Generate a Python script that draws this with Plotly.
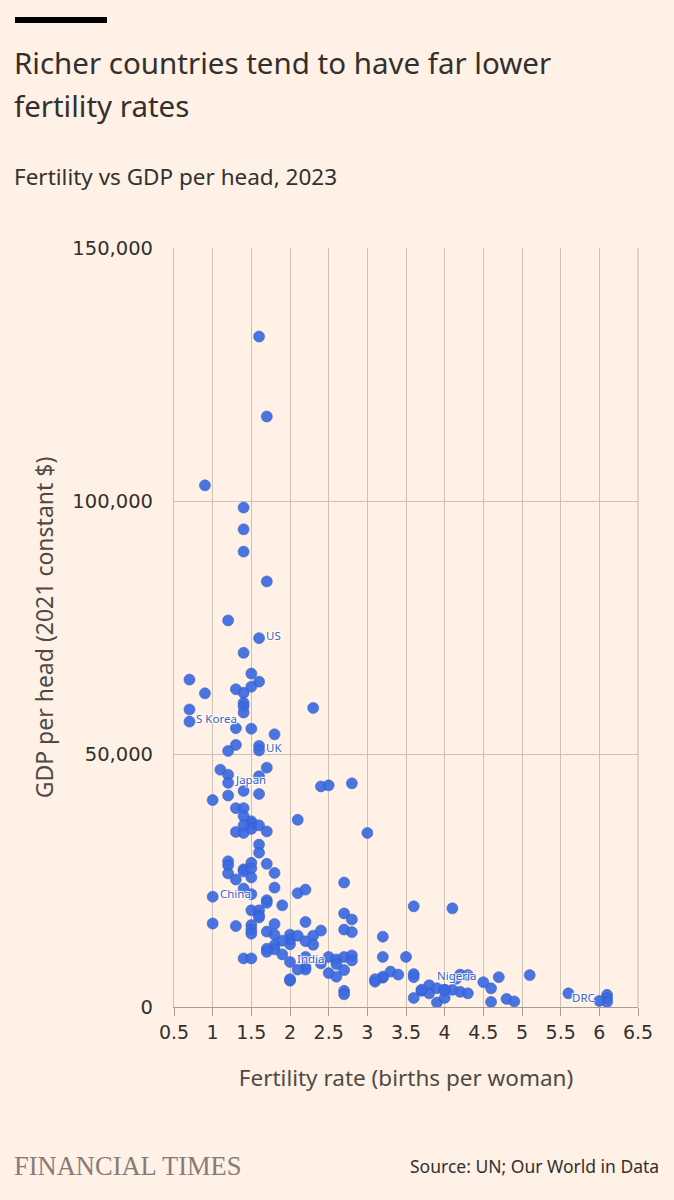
import plotly.graph_objects as go

# Fertility rate (births per woman)
fertility = [
    1.6, 1.7, 0.9, 1.4, 1.4, 1.4, 1.7, 1.2, 1.6, 1.4,
    0.7, 1.5, 1.6, 0.9, 1.3, 1.4, 1.5, 1.4, 1.4, 1.4,
    0.7, 0.7, 2.3, 1.3, 1.5, 1.8, 1.3, 1.2, 1.6, 1.6,
    1.1, 1.2, 1.7, 1.2, 1.6, 2.4, 2.5, 2.8, 1.0, 1.2,
    1.4, 1.6, 1.3, 1.4, 1.4, 1.5, 1.5, 2.1, 1.3, 1.4,
    1.5, 1.6, 1.7, 1.4, 3.0, 1.6, 1.6, 1.2, 1.2, 1.2,
    1.4, 1.4, 1.5, 1.5, 1.5, 1.7, 1.8, 1.3, 1.8, 1.0,
    1.5, 1.4, 2.1, 2.2, 2.7, 1.7, 1.7, 1.9, 1.5, 1.6,
    1.6, 1.6, 2.7, 2.8, 2.2, 1.0, 1.3, 1.5, 1.5, 1.5,
    1.8, 1.7, 1.8, 2.0, 2.0, 2.0, 2.1, 2.2, 2.3, 2.3,
    2.4, 2.7, 2.8, 1.9, 1.8, 1.8, 1.7, 1.7, 1.9, 2.0,
    1.4, 1.5, 2.2, 2.2, 2.2, 2.1, 2.4, 2.5, 2.6, 2.6,
    2.7, 2.7, 2.8, 2.8, 2.5, 2.6, 2.0, 2.7, 2.7, 3.6,
    4.1, 3.2, 3.2, 3.5, 3.1, 3.2, 3.3, 3.4, 3.6, 3.6,
    3.6, 3.7, 3.8, 3.8, 3.9, 4.0, 4.0, 4.2, 4.3, 4.2,
    4.3, 4.1, 4.5, 4.6, 4.6, 4.7, 4.8, 4.9, 5.1, 5.6,
    6.1, 6.1, 6.1, 6.0, 3.7, 3.9, 4.0, 3.2, 3.1, 2.0,
    4.15,
]

# GDP per head (2021 constant $)
gdp = [
    132500, 116700, 103100, 98700, 94400, 90000, 84100, 76400, 72900, 70000,
    64700, 65900, 64300, 62000, 62800, 62100, 63300, 60100, 59400, 58200,
    58800, 56400, 59100, 55100, 55000, 53900, 51800, 50600, 51600, 50700,
    46900, 45900, 47300, 44300, 45600, 43600, 43800, 44200, 40900, 41800,
    42700, 42100, 39300, 39300, 37700, 36700, 36200, 37000, 34600, 34400,
    35200, 35900, 34700, 35900, 34400, 32100, 30500, 28800, 28000, 26400,
    27200, 26800, 28500, 27400, 25600, 28300, 26500, 25200, 23600, 21800,
    22300, 23400, 22500, 23200, 24600, 21100, 20600, 20100, 19100, 19100,
    18100, 17700, 18500, 17300, 16800, 16500, 16000, 16200, 15300, 14500,
    16400, 14900, 14300, 14300, 13300, 12400, 14100, 13000, 14100, 12300,
    15100, 15300, 14800, 13100, 12200, 11400, 11500, 10900, 10400, 8900,
    9600, 9600, 9900, 7900, 7400, 7400, 8600, 9900, 9400, 8500,
    9900, 7300, 10200, 9200, 6700, 6000, 5200, 3200, 2500, 19900,
    19500, 13900, 9900, 9900, 5000, 5800, 7000, 6400, 6500, 5900,
    1800, 3200, 4300, 2700, 900, 3400, 1800, 6400, 6300, 3000,
    2700, 3400, 4900, 3700, 1000, 5900, 1600, 1100, 6300, 2700,
    2400, 1700, 1000, 1200, 3400, 3700, 3400, 6000, 5500, 5500,
    5600,
]

# Labelled countries: name, fertility, GDP per head, side of label
label_names = ["US", "S Korea", "UK", "Japan", "China", "India", "Nigeria", "DRC"]
label_fert = [1.6, 0.7, 1.6, 1.2, 1.0, 2.0, 4.15, 6.0]
label_gdp = [72900, 56400, 50700, 44300, 21800, 8900, 5600, 1200]
label_side = ["right", "right", "right", "right", "right", "right", "centre", "left"]

x_ticks = [0.5, 1, 1.5, 2, 2.5, 3, 3.5, 4, 4.5, 5, 5.5, 6, 6.5]
x_tick_text = ["0.5", "1", "1.5", "2", "2.5", "3", "3.5", "4", "4.5", "5", "5.5", "6", "6.5"]
y_ticks = [0, 50000, 100000, 150000]
y_tick_text = ["0", "50,000", "100,000", "150,000"]

BG = "#fff1e5"
DOT = "#3b6ae0"
LABEL = "#3d5fbf"
GRID = "#cbc1b7"
TEXT = "#33302e"
AXTEXT = "#4f4a47"
FONT = "'Noto Sans', 'Open Sans', sans-serif"
NUMFONT = "'DejaVu Sans', 'Noto Sans', sans-serif"

PH = 759.0   # plot-area height in px
PW = 464.0   # plot-area width in px

fig = go.Figure()
fig.add_trace(go.Scatter(
    x=fertility, y=gdp, mode="markers",
    marker=dict(size=11, color=DOT, opacity=0.92,
                line=dict(width=0.6, color="#2f58c4")),
    hoverinfo="x+y", showlegend=False,
))

for name, fx, gy, side in zip(label_names, label_fert, label_gdp, label_side):
    if side == "right":
        xanchor, xshift = "left", 5
    elif side == "left":
        xanchor, xshift = "right", -2
    else:
        xanchor, xshift = "center", 0
    fig.add_annotation(
        x=fx, y=gy, text=name, showarrow=False,
        xanchor=xanchor, yanchor="middle", xshift=xshift, yshift=3,
        font=dict(family=FONT, size=11.5, color=LABEL, shadow="auto"),
    )

fig.update_layout(
    width=674, height=1200,
    paper_bgcolor=BG, plot_bgcolor=BG,
    margin=dict(l=174, r=36, t=248, b=193),
    font=dict(family=FONT, color=TEXT),
    xaxis=dict(
        range=[0.5, 6.5], tickvals=x_ticks, ticktext=x_tick_text,
        showgrid=True, gridcolor=GRID, gridwidth=1.2,
        showline=True, linecolor="#a79d94", linewidth=1.2,
        ticks="outside", ticklen=8, tickcolor="#a79d94", tickwidth=1.2,
        tickfont=dict(family=NUMFONT, size=19, color=TEXT),
        zeroline=False, fixedrange=True,
        title=dict(text="Fertility rate (births per woman)",
                   font=dict(family=FONT, size=22.5, color=AXTEXT), standoff=28),
    ),
    yaxis=dict(
        range=[0, 150000], tickvals=y_ticks, ticktext=y_tick_text,
        showgrid=True, gridcolor=GRID, gridwidth=1.2,
        showline=True, linecolor=GRID, linewidth=1.2,
        ticks="", tickfont=dict(family=NUMFONT, size=19.5, color=TEXT),
        ticklabelstandoff=16,
        zeroline=False, fixedrange=True,
        title=dict(text="GDP per head (2021 constant $)",
                   font=dict(family=FONT, size=23, color=AXTEXT), standoff=12),
    ),
)

# right-hand border (6.5 gridline)
fig.add_shape(type="line", xref="paper", yref="paper", x0=1, x1=1, y0=0, y1=1,
              line=dict(color=GRID, width=1.2))

# Header bar
fig.add_shape(type="rect", xref="paper", yref="paper",
              x0=-159 / PW, x1=-67 / PW, y0=1 + 225 / PH, y1=1 + 231 / PH,
              fillcolor="#000000", line=dict(width=0))

title_lines = ["Richer countries tend to have far lower", "fertility rates"]
title_centres = [62, 106]
for line, cy in zip(title_lines, title_centres):
    fig.add_annotation(
        xref="paper", yref="paper", x=-162 / PW, y=1 + (248 - cy) / PH,
        xanchor="left", yanchor="middle", showarrow=False,
        text=line, font=dict(family=FONT, size=29.5, color=TEXT),
    )
fig.add_annotation(
    xref="paper", yref="paper", x=-162 / PW, y=1 + (248 - 177) / PH,
    xanchor="left", yanchor="middle", showarrow=False,
    text="Fertility vs GDP per head, 2023",
    font=dict(family=FONT, size=22.5, color=TEXT),
)
fig.add_annotation(
    xref="paper", yref="paper", x=-162 / PW, y=-(1166 - 1007) / PH,
    xanchor="left", yanchor="middle", showarrow=False,
    text="FINANCIAL TIMES",
    font=dict(family="'Liberation Serif', serif", size=26.5, color="#877c75"),
)
fig.add_annotation(
    xref="paper", yref="paper", x=1 + 23 / PW, y=-(1166 - 1007) / PH,
    xanchor="right", yanchor="middle", showarrow=False,
    text="Source: UN; Our World in Data",
    font=dict(family=FONT, size=17.5, color=TEXT),
)

fig.write_html("out.html")
